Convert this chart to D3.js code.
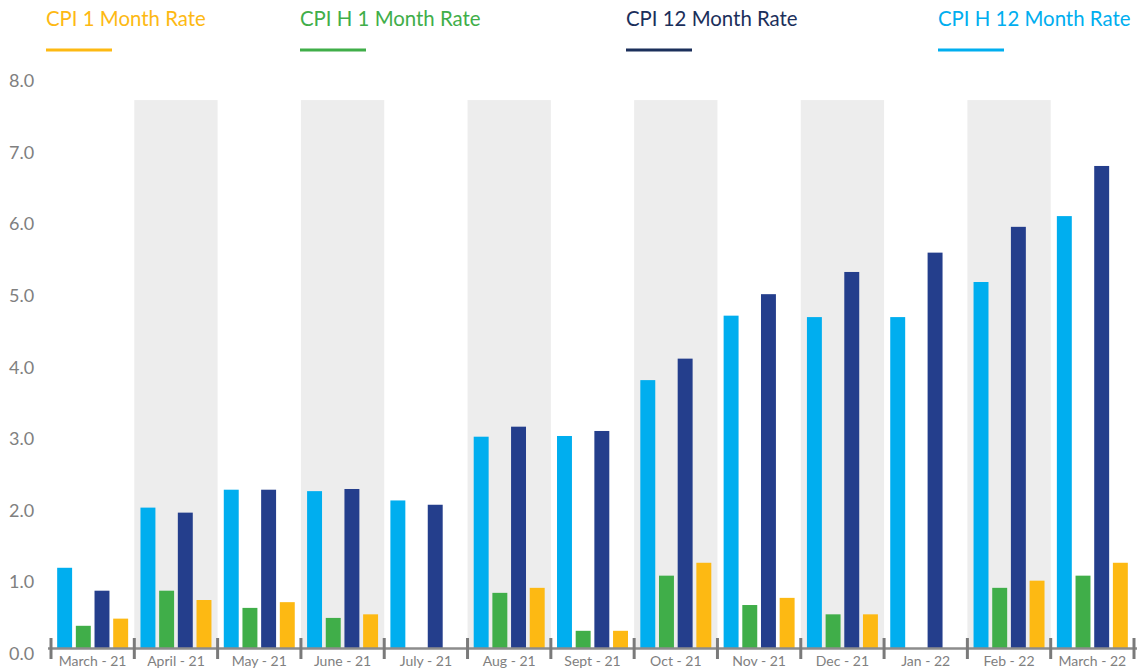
<!DOCTYPE html>
<html>
<head>
<meta charset="utf-8">
<script src="https://cdn.jsdelivr.net/npm/d3@7"></script>
<style>
  html, body { margin: 0; padding: 0; background: #fff; }
  svg { display: block; font-family: Lato, "Open Sans", sans-serif; }
</style>
</head>
<body>
<svg id="chart" width="1137" height="672"></svg>
<script>
const categories = ["March - 21", "April - 21", "May - 21", "June - 21", "July - 21", "Aug - 21",
  "Sept - 21", "Oct - 21", "Nov - 21", "Dec - 21", "Jan - 22", "Feb - 22", "March - 22"];
const seriesNames = ["CPI H 12 Month Rate", "CPI H 1 Month Rate", "CPI 12 Month Rate", "CPI 1 Month Rate"];
const cpih12 = [1.12, 1.96, 2.21, 2.19, 2.06, 2.95, 2.96, 3.74, 4.64, 4.62, 4.62, 5.11, 6.03];
const cpih1  = [0.31, 0.80, 0.56, 0.42, null, 0.77, 0.24, 1.01, 0.60, 0.47, null, 0.84, 1.01];
const cpi12  = [0.80, 1.89, 2.21, 2.22, 2.00, 3.09, 3.03, 4.04, 4.94, 5.25, 5.52, 5.88, 6.73];
const cpi1   = [0.41, 0.67, 0.64, 0.47, null, 0.84, 0.24, 1.19, 0.70, 0.47, null, 0.94, 1.19];
const yTicks = [0, 1, 2, 3, 4, 5, 6, 7, 8];
const shadeTop = 7.65;
const legendOrder = ["CPI 1 Month Rate", "CPI H 1 Month Rate", "CPI 12 Month Rate", "CPI H 12 Month Rate"];

const colors = {
  "CPI H 12 Month Rate": "#00AEEF",
  "CPI H 1 Month Rate": "#40AE49",
  "CPI 12 Month Rate": "#243E8C",
  "CPI 1 Month Rate": "#FDB913"
};
const legendTextColors = {
  "CPI H 12 Month Rate": "#00AEEF",
  "CPI H 1 Month Rate": "#40AE49",
  "CPI 12 Month Rate": "#1B2F5B",
  "CPI 1 Month Rate": "#FDB913"
};
const seriesValues = [cpih12, cpih1, cpi12, cpi1];

const svg = d3.select("#chart");
const x = d3.scaleBand().domain(categories).range([51, 1134]).padding(0);
const y = d3.scaleLinear().domain([0, 8]).range([648, 75]);
const xInner = d3.scaleBand().domain(seriesNames).range([0, x.bandwidth()])
  .paddingInner(0.2).paddingOuter(0.33);

// shaded alternating bands
svg.append("g").selectAll("rect")
  .data(categories.filter((c, i) => i % 2 === 1))
  .join("rect")
  .attr("x", d => x(d))
  .attr("width", x.bandwidth())
  .attr("y", y(shadeTop))
  .attr("height", y(0) - y(shadeTop))
  .attr("fill", "#EDEDED");

// y labels
svg.append("g").selectAll("text")
  .data(yTicks)
  .join("text")
  .attr("x", 9)
  .attr("y", d => y(d) + 12)
  .attr("font-size", 18)
  .attr("fill", "#808080")
  .text(d => d3.format(".1f")(d));

// bars
const rows = [];
seriesNames.forEach((s, si) => {
  categories.forEach((c, ci) => {
    const v = seriesValues[si][ci];
    if (v !== null && v !== undefined) rows.push({ s, c, v });
  });
});
svg.append("g").selectAll("rect")
  .data(rows)
  .join("rect")
  .attr("x", d => x(d.c) + xInner(d.s))
  .attr("width", xInner.bandwidth())
  .attr("y", d => y(d.v))
  .attr("height", d => y(0) - y(d.v))
  .attr("fill", d => colors[d.s]);

// x axis line and ticks
const axisG = svg.append("g");
axisG.append("line")
  .attr("x1", x.range()[0] - 3).attr("x2", x.range()[1] + 3)
  .attr("y1", y(0) + 0.5).attr("y2", y(0) + 0.5)
  .attr("stroke", "#8C8C8C").attr("stroke-width", 2.5);
const boundaries = categories.map(c => x(c)).concat([x.range()[1]]);
axisG.selectAll("line.tick")
  .data(boundaries)
  .join("line")
  .attr("class", "tick")
  .attr("x1", d => d).attr("x2", d => d)
  .attr("y1", y(0) - 10).attr("y2", y(0) + 11)
  .attr("stroke", "#7A7A7A").attr("stroke-width", 3);
axisG.selectAll("text")
  .data(categories)
  .join("text")
  .attr("x", d => x(d) + x.bandwidth() / 2)
  .attr("y", 666)
  .attr("text-anchor", "middle")
  .attr("font-size", 14)
  .attr("fill", "#808080")
  .text(d => d);

// legend
const legendX = [46, 300, 626, 938];
const lg = svg.append("g").selectAll("g")
  .data(legendOrder)
  .join("g")
  .attr("transform", (d, i) => `translate(${legendX[i]},0)`);
lg.append("text")
  .attr("x", 0).attr("y", 26)
  .attr("font-size", 20.4)
  .attr("fill", d => legendTextColors[d])
  .text(d => d);
lg.append("line")
  .attr("x1", 0).attr("x2", 66)
  .attr("y1", 50).attr("y2", 50)
  .attr("stroke", d => legendTextColors[d])
  .attr("stroke-width", 3);
</script>
</body>
</html>
